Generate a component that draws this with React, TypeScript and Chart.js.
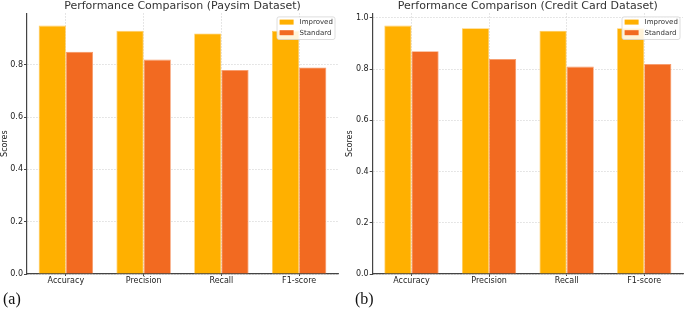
import React, { useEffect, useRef } from "react";
import { Chart, registerables } from "chart.js";

Chart.register(...registerables);

const categories = ["Accuracy", "Precision", "Recall", "F1-score"];
const seriesLabels = ["Improved", "Standard"];
const paysimImproved = [0.95, 0.93, 0.92, 0.93];
const paysimStandard = [0.85, 0.82, 0.78, 0.79];
const creditImproved = [0.97, 0.96, 0.95, 0.96];
const creditStandard = [0.87, 0.84, 0.81, 0.82];
const paysimTitle = "Performance Comparison (Paysim Dataset)";
const creditTitle = "Performance Comparison (Credit Card Dataset)";
const yAxisLabel = "Scores";
const panelLabels = ["(a)", "(b)"];

const improvedColor = "#FFB000";
const standardColor = "#F26A21";
const improvedEdge = "#FFCB5C";
const standardEdge = "#F79866";
const FONT = "'DejaVu Sans', sans-serif";

const boxLegend = {
  id: "boxLegend",
  afterDatasetsDraw(chart: any) {
    const { ctx, chartArea } = chart;
    const w = 58;
    const h = 22.6;
    const x = chartArea.right - 3 - w;
    const y = chartArea.top + 3.7;
    ctx.save();
    ctx.fillStyle = "rgba(255,255,255,0.85)";
    ctx.strokeStyle = "#d6d6d6";
    ctx.lineWidth = 0.8;
    ctx.beginPath();
    if ((ctx as any).roundRect) (ctx as any).roundRect(x, y, w, h, 2);
    else ctx.rect(x, y, w, h);
    ctx.fill();
    ctx.stroke();
    chart.data.datasets.forEach((ds: any, i: number) => {
      const ry = y + 5.2 + i * 10.6;
      ctx.fillStyle = ds.backgroundColor;
      ctx.fillRect(x + 2.6, ry - 2.5, 14, 5);
      ctx.fillStyle = "#333";
      ctx.font = `7px ${FONT}`;
      ctx.textBaseline = "middle";
      ctx.textAlign = "left";
      ctx.fillText(ds.label, x + 22.6, ry);
    });
    ctx.restore();
  },
};

function makeConfig(title: string, improved: number[], standard: number[], axisWidth: number) {
  const yMax = Math.max(...improved, ...standard) * 1.05;
  return {
    type: "bar" as const,
    data: {
      labels: categories,
      datasets: [
        {
          label: seriesLabels[0],
          data: improved,
          backgroundColor: improvedColor,
          borderColor: improvedEdge,
          borderWidth: 0.8,
          categoryPercentage: 0.7,
          barPercentage: 1.0,
        },
        {
          label: seriesLabels[1],
          data: standard,
          backgroundColor: standardColor,
          borderColor: standardEdge,
          borderWidth: 0.8,
          categoryPercentage: 0.7,
          barPercentage: 1.0,
        },
      ],
    },
    options: {
      responsive: false,
      animation: false as const,
      layout: { padding: { left: 0, right: 2, top: 0, bottom: 0 } },
      plugins: {
        legend: { display: false },
        tooltip: { enabled: false },
        title: {
          display: true,
          text: title,
          fullSize: false,
          color: "#333",
          font: { family: FONT, size: 11, weight: "normal" as const, lineHeight: 1.2 },
          padding: { top: 3, bottom: 0 },
        },
      },
      scales: {
        x: {
          type: "category" as const,
          offset: true,
          afterFit(scale: any) {
            scale.height = 37;
          },
          grid: {
            offset: false,
            color: "#d4d4d4",
            lineWidth: 0.8,
            drawTicks: true,
            tickLength: 2,
            tickColor: "#444",
            tickWidth: 1,
          },
          border: { display: true, color: "#444", width: 1.2, dash: [1.5, 1.5] },
          ticks: {
            color: "#222",
            padding: 0,
            font: { family: FONT, size: 8 },
            maxRotation: 0,
          },
        },
        y: {
          min: 0,
          max: yMax,
          afterFit(scale: any) {
            scale.width = axisWidth;
          },
          afterBuildTicks(scale: any) {
            scale.ticks = scale.ticks.filter(
              (t: any) => Math.abs(t.value * 5 - Math.round(t.value * 5)) < 1e-6
            );
          },
          grid: {
            color: "#d4d4d4",
            lineWidth: 0.8,
            drawTicks: true,
            tickLength: 3,
            tickColor: "#444",
            tickWidth: 1,
          },
          border: { display: true, color: "#444", width: 1.2, dash: [1.5, 1.5] },
          ticks: {
            stepSize: 0.2,
            includeBounds: false,
            color: "#222",
            padding: 1,
            font: { family: FONT, size: 8 },
            callback: (v: any) => Number(v).toFixed(1),
          },
          title: {
            display: true,
            text: yAxisLabel,
            color: "#222",
            font: { family: FONT, size: 8 },
            padding: { top: 0, bottom: 0 },
          },
        },
      },
    },
    plugins: [boxLegend],
  };
}

function BarPanel(props: {
  title: string;
  improved: number[];
  standard: number[];
  left: number;
  axisWidth: number;
}) {
  const ref = useRef<HTMLCanvasElement | null>(null);
  useEffect(() => {
    if (!ref.current) return;
    const chart = new Chart(
      ref.current,
      makeConfig(props.title, props.improved, props.standard, props.axisWidth) as any
    );
    return () => chart.destroy();
  }, []);
  return (
    <canvas
      ref={ref}
      width={340}
      height={314}
      style={{ position: "absolute", left: props.left, top: -3, width: 340, height: 314 }}
    />
  );
}

export default function App() {
  return (
    <div
      style={{
        position: "fixed",
        left: 0,
        top: 0,
        width: 685,
        height: 311,
        overflow: "hidden",
        background: "#fff",
      }}
    >
      <BarPanel title={paysimTitle} improved={paysimImproved} standard={paysimStandard} left={0} axisWidth={27} />
      <BarPanel title={creditTitle} improved={creditImproved} standard={creditStandard} left={345} axisWidth={27.7} />
      <div
        style={{
          position: "absolute",
          left: 3,
          top: 290,
          fontFamily: "'Liberation Serif', 'Times New Roman', serif",
          fontSize: 16,
          lineHeight: "18px",
          color: "#111",
        }}
      >
        {panelLabels[0]}
      </div>
      <div
        style={{
          position: "absolute",
          left: 355,
          top: 290,
          fontFamily: "'Liberation Serif', 'Times New Roman', serif",
          fontSize: 16,
          lineHeight: "18px",
          color: "#111",
        }}
      >
        {panelLabels[1]}
      </div>
    </div>
  );
}
